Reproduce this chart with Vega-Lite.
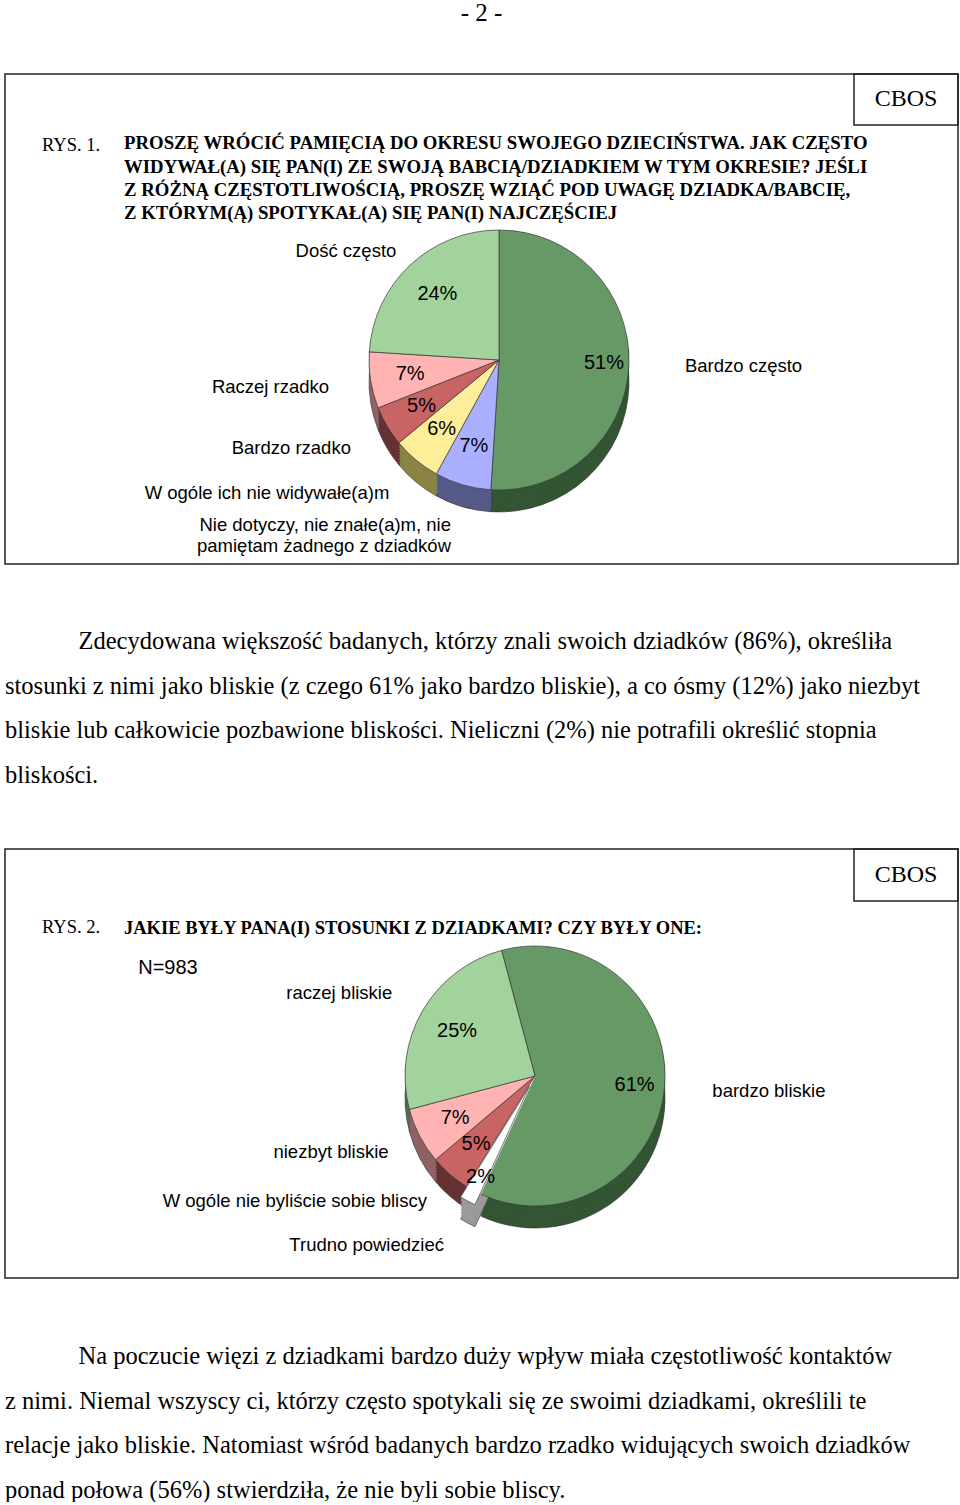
{
  "$schema": "https://vega.github.io/schema/vega-lite/v6.json",
  "background": "white",
  "padding": {"left": 4, "right": 3, "top": 1, "bottom": 0},
  "title": {"text": "- 2 -", "font": "Liberation Serif", "fontSize": 25, "fontWeight": "normal", "anchor": "middle", "frame": "group", "offset": 44, "color": "black"},
  "spacing": 58,
  "resolve": {"scale": {"color": "independent", "fill": "independent", "theta": "independent", "opacity": "independent", "stroke": "independent"}},
  "vconcat": [
    {
      "width": 953,
      "height": 490,
      "view": {"stroke": "#222222", "strokeWidth": 1.5},
      "title": {
        "text": [
          "PROSZĘ WRÓCIĆ PAMIĘCIĄ DO OKRESU SWOJEGO DZIECIŃSTWA. JAK CZĘSTO",
          "WIDYWAŁ(A) SIĘ PAN(I) ZE SWOJĄ BABCIĄ/DZIADKIEM W TYM OKRESIE? JEŚLI",
          "Z RÓŻNĄ CZĘSTOTLIWOŚCIĄ, PROSZĘ WZIĄĆ POD UWAGĘ DZIADKA/BABCIĘ,",
          "Z KTÓRYM(Ą) SPOTYKAŁ(A) SIĘ PAN(I) NAJCZĘŚCIEJ"
        ],
        "orient": "top", "anchor": "start", "frame": "group", "offset": -152, "dx": 119,
        "font": "Liberation Serif", "fontSize": 18.8, "fontWeight": "bold", "color": "black", "lineHeight": 23.3
      },
      "layer": [
        {
          "data": {"values": [
            {"cat": "Bardzo często", "value": 0.51},
            {"cat": "Nie dotyczy, nie znałe(a)m, nie\npamiętam żadnego z dziadków", "value": 0.07},
            {"cat": "W ogóle ich nie widywałe(a)m", "value": 0.06},
            {"cat": "Bardzo rzadko", "value": 0.05},
            {"cat": "Raczej rzadko", "value": 0.07},
            {"cat": "Dość często", "value": 0.24}
          ]},
          "transform": [{"window": [{"op": "row_number", "as": "k"}]}],
          "encoding": {
            "theta": {"field": "value", "type": "quantitative", "stack": true},
            "order": {"field": "k", "type": "quantitative"}
          },
          "layer": [
            {"mark": {"type": "arc", "radius": 130, "xOffset": 17.5, "yOffset": 63, "stroke": "#2a2a2a", "strokeWidth": 0.6},
             "encoding": {"fill": {"field": "cat", "type": "nominal", "legend": null, "scale": {"domain": ["Bardzo często", "Nie dotyczy, nie znałe(a)m, nie\npamiętam żadnego z dziadków", "W ogóle ich nie widywałe(a)m", "Bardzo rzadko", "Raczej rzadko", "Dość często"], "range": ["#335533", "#555a88", "#8a8444", "#643232", "#8f6363", "#51694e"]}}}},
            {"mark": {"type": "arc", "radius": 130, "xOffset": 17.5, "yOffset": 60},
             "encoding": {"fill": {"field": "cat", "type": "nominal", "legend": null, "scale": {"domain": ["Bardzo często", "Nie dotyczy, nie znałe(a)m, nie\npamiętam żadnego z dziadków", "W ogóle ich nie widywałe(a)m", "Bardzo rzadko", "Raczej rzadko", "Dość często"], "range": ["#335533", "#555a88", "#8a8444", "#643232", "#8f6363", "#51694e"]}}}},
            {"mark": {"type": "arc", "radius": 130, "xOffset": 17.5, "yOffset": 57},
             "encoding": {"fill": {"field": "cat", "type": "nominal", "legend": null, "scale": {"domain": ["Bardzo często", "Nie dotyczy, nie znałe(a)m, nie\npamiętam żadnego z dziadków", "W ogóle ich nie widywałe(a)m", "Bardzo rzadko", "Raczej rzadko", "Dość często"], "range": ["#335533", "#555a88", "#8a8444", "#643232", "#8f6363", "#51694e"]}}}},
            {"mark": {"type": "arc", "radius": 130, "xOffset": 17.5, "yOffset": 54},
             "encoding": {"fill": {"field": "cat", "type": "nominal", "legend": null, "scale": {"domain": ["Bardzo często", "Nie dotyczy, nie znałe(a)m, nie\npamiętam żadnego z dziadków", "W ogóle ich nie widywałe(a)m", "Bardzo rzadko", "Raczej rzadko", "Dość często"], "range": ["#335533", "#555a88", "#8a8444", "#643232", "#8f6363", "#51694e"]}}}},
            {"mark": {"type": "arc", "radius": 130, "xOffset": 17.5, "yOffset": 51},
             "encoding": {"fill": {"field": "cat", "type": "nominal", "legend": null, "scale": {"domain": ["Bardzo często", "Nie dotyczy, nie znałe(a)m, nie\npamiętam żadnego z dziadków", "W ogóle ich nie widywałe(a)m", "Bardzo rzadko", "Raczej rzadko", "Dość często"], "range": ["#335533", "#555a88", "#8a8444", "#643232", "#8f6363", "#51694e"]}}}},
            {"mark": {"type": "arc", "radius": 130, "xOffset": 17.5, "yOffset": 48},
             "encoding": {"fill": {"field": "cat", "type": "nominal", "legend": null, "scale": {"domain": ["Bardzo często", "Nie dotyczy, nie znałe(a)m, nie\npamiętam żadnego z dziadków", "W ogóle ich nie widywałe(a)m", "Bardzo rzadko", "Raczej rzadko", "Dość często"], "range": ["#335533", "#555a88", "#8a8444", "#643232", "#8f6363", "#51694e"]}}}},
            {"mark": {"type": "arc", "radius": 130, "xOffset": 17.5, "yOffset": 45},
             "encoding": {"fill": {"field": "cat", "type": "nominal", "legend": null, "scale": {"domain": ["Bardzo często", "Nie dotyczy, nie znałe(a)m, nie\npamiętam żadnego z dziadków", "W ogóle ich nie widywałe(a)m", "Bardzo rzadko", "Raczej rzadko", "Dość często"], "range": ["#335533", "#555a88", "#8a8444", "#643232", "#8f6363", "#51694e"]}}}},
            {"mark": {"type": "arc", "radius": 130, "xOffset": 17.5, "yOffset": 43},
             "encoding": {"fill": {"field": "cat", "type": "nominal", "legend": null, "scale": {"domain": ["Bardzo często", "Nie dotyczy, nie znałe(a)m, nie\npamiętam żadnego z dziadków", "W ogóle ich nie widywałe(a)m", "Bardzo rzadko", "Raczej rzadko", "Dość często"], "range": ["#335533", "#555a88", "#8a8444", "#643232", "#8f6363", "#51694e"]}}}},
            {"mark": {"type": "arc", "radius": 130, "xOffset": 17.5, "yOffset": 41, "stroke": "#3a3a3a", "strokeWidth": 0.7},
             "encoding": {"color": {"field": "cat", "type": "nominal", "legend": null, "scale": {"domain": ["Bardzo często", "Nie dotyczy, nie znałe(a)m, nie\npamiętam żadnego z dziadków", "W ogóle ich nie widywałe(a)m", "Bardzo rzadko", "Raczej rzadko", "Dość często"], "range": ["#669966", "#aab0ff", "#ffee99", "#c86464", "#ffb3b3", "#a3d39c"]}}}},
            {"mark": {"type": "text", "radius": {"expr": "datum.cat === 'Bardzo często' ? 105 : 90"}, "xOffset": 17.5, "yOffset": 41, "font": "Liberation Sans", "fontSize": 20, "color": "black"},
             "encoding": {"text": {"field": "value", "type": "quantitative", "format": ".0%"}}},
            {"mark": {"type": "text", "radius": {"expr": "datum.cat === 'Dość często' ? 150 : datum.cat === 'Bardzo często' ? 186 : 172"}, "xOffset": 17.5, "yOffset": 41, "font": "Liberation Sans", "fontSize": 18.5, "color": "black", "lineBreak": "\n", "lineHeight": 21,
                      "align": {"expr": "datum.cat === 'Bardzo często' ? 'left' : 'right'"}},
             "encoding": {"text": {"field": "cat", "type": "nominal"}}}
          ]
        },
        {
          "data": {"values": [{"t": "RYS. 1."}]},
          "mark": {"type": "text", "font": "Liberation Serif", "fontSize": 18.5, "color": "black", "align": "left", "xOffset": -439.5, "yOffset": -174},
          "encoding": {"text": {"field": "t", "type": "nominal"}}
        },
        {
          "data": {"values": [{"t": "CBOS"}]},
          "mark": {"type": "point", "shape": "M-1,-0.49L1,-0.49L1,0.49L-1,0.49Z", "size": 10816, "filled": false, "stroke": "#222222", "strokeWidth": 1.5, "opacity": 1, "xOffset": 424.5, "yOffset": -219.5},
          "encoding": {}
        },
        {
          "data": {"values": [{"t": "CBOS"}]},
          "mark": {"type": "text", "font": "Liberation Serif", "fontSize": 24, "color": "black", "xOffset": 424.5, "yOffset": -220},
          "encoding": {"text": {"field": "t", "type": "nominal"}}
        }
      ]
    },
    {
      "width": 953,
      "height": 7,
      "data": {"values": []},
      "mark": {"type": "point", "opacity": 0},
      "title": {
        "text": [
          "\u200b\u00a0\u00a0\u00a0\u00a0\u00a0\u00a0\u00a0\u00a0\u00a0\u00a0\u00a0\u00a0Zdecydowana większość badanych, którzy znali swoich dziadków (86%), określiła",
          "stosunki z nimi jako bliskie (z czego 61% jako bardzo bliskie), a co ósmy (12%) jako niezbyt",
          "bliskie lub całkowicie pozbawione bliskości. Nieliczni (2%) nie potrafili określić stopnia",
          "bliskości."
        ],
        "orient": "bottom", "anchor": "start", "frame": "group", "offset": 0,
        "font": "Liberation Serif", "fontSize": 24.5, "fontWeight": "normal", "color": "black", "lineHeight": 44.5
      }
    },
    {
      "width": 953,
      "height": 429,
      "view": {"stroke": "#222222", "strokeWidth": 1.5},
      "title": {
        "text": "JAKIE BYŁY PANA(I) STOSUNKI Z DZIADKAMI? CZY BYŁY ONE:",
        "orient": "top", "anchor": "start", "frame": "group", "offset": -91, "dx": 119,
        "font": "Liberation Serif", "fontSize": 18.5, "fontWeight": "bold", "color": "black"
      },
      "layer": [
        {
          "data": {"values": [
            {"cat": "bardzo bliskie", "value": 0.61},
            {"cat": "Trudno powiedzieć", "value": 0.02},
            {"cat": "W ogóle nie byliście sobie bliscy", "value": 0.05},
            {"cat": "niezbyt bliskie", "value": 0.07},
            {"cat": "raczej bliskie", "value": 0.25}
          ]},
          "transform": [{"window": [{"op": "row_number", "as": "k"}]}],
          "encoding": {
            "theta": {"field": "value", "type": "quantitative", "stack": true, "scale": {"range": [-0.26, 6.02319]}},
            "order": {"field": "k", "type": "quantitative"}
          },
          "layer": [
            {"mark": {"type": "arc", "radius": 130, "xOffset": 53.5, "yOffset": 34.5, "stroke": "#2a2a2a", "strokeWidth": 0.6},
             "encoding": {"fill": {"field": "cat", "type": "nominal", "legend": null, "scale": {"domain": ["bardzo bliskie", "Trudno powiedzieć", "W ogóle nie byliście sobie bliscy", "niezbyt bliskie", "raczej bliskie"], "range": ["#335533", "#9a9a9a", "#643232", "#8f6363", "#51694e"]}},
                          "opacity": {"condition": {"test": "datum.cat === 'Trudno powiedzieć'", "value": 0}, "value": 1}}},
            {"mark": {"type": "arc", "radius": 130, "xOffset": 53.5, "yOffset": 31.5},
             "encoding": {"fill": {"field": "cat", "type": "nominal", "legend": null, "scale": {"domain": ["bardzo bliskie", "Trudno powiedzieć", "W ogóle nie byliście sobie bliscy", "niezbyt bliskie", "raczej bliskie"], "range": ["#335533", "#9a9a9a", "#643232", "#8f6363", "#51694e"]}},
                          "opacity": {"condition": {"test": "datum.cat === 'Trudno powiedzieć'", "value": 0}, "value": 1}}},
            {"mark": {"type": "arc", "radius": 130, "xOffset": 53.5, "yOffset": 28.5},
             "encoding": {"fill": {"field": "cat", "type": "nominal", "legend": null, "scale": {"domain": ["bardzo bliskie", "Trudno powiedzieć", "W ogóle nie byliście sobie bliscy", "niezbyt bliskie", "raczej bliskie"], "range": ["#335533", "#9a9a9a", "#643232", "#8f6363", "#51694e"]}},
                          "opacity": {"condition": {"test": "datum.cat === 'Trudno powiedzieć'", "value": 0}, "value": 1}}},
            {"mark": {"type": "arc", "radius": 130, "xOffset": 53.5, "yOffset": 25.5},
             "encoding": {"fill": {"field": "cat", "type": "nominal", "legend": null, "scale": {"domain": ["bardzo bliskie", "Trudno powiedzieć", "W ogóle nie byliście sobie bliscy", "niezbyt bliskie", "raczej bliskie"], "range": ["#335533", "#9a9a9a", "#643232", "#8f6363", "#51694e"]}},
                          "opacity": {"condition": {"test": "datum.cat === 'Trudno powiedzieć'", "value": 0}, "value": 1}}},
            {"mark": {"type": "arc", "radius": 130, "xOffset": 53.5, "yOffset": 22.5},
             "encoding": {"fill": {"field": "cat", "type": "nominal", "legend": null, "scale": {"domain": ["bardzo bliskie", "Trudno powiedzieć", "W ogóle nie byliście sobie bliscy", "niezbyt bliskie", "raczej bliskie"], "range": ["#335533", "#9a9a9a", "#643232", "#8f6363", "#51694e"]}},
                          "opacity": {"condition": {"test": "datum.cat === 'Trudno powiedzieć'", "value": 0}, "value": 1}}},
            {"mark": {"type": "arc", "radius": 130, "xOffset": 53.5, "yOffset": 19.5},
             "encoding": {"fill": {"field": "cat", "type": "nominal", "legend": null, "scale": {"domain": ["bardzo bliskie", "Trudno powiedzieć", "W ogóle nie byliście sobie bliscy", "niezbyt bliskie", "raczej bliskie"], "range": ["#335533", "#9a9a9a", "#643232", "#8f6363", "#51694e"]}},
                          "opacity": {"condition": {"test": "datum.cat === 'Trudno powiedzieć'", "value": 0}, "value": 1}}},
            {"mark": {"type": "arc", "radius": 130, "xOffset": 53.5, "yOffset": 16.5},
             "encoding": {"fill": {"field": "cat", "type": "nominal", "legend": null, "scale": {"domain": ["bardzo bliskie", "Trudno powiedzieć", "W ogóle nie byliście sobie bliscy", "niezbyt bliskie", "raczej bliskie"], "range": ["#335533", "#9a9a9a", "#643232", "#8f6363", "#51694e"]}},
                          "opacity": {"condition": {"test": "datum.cat === 'Trudno powiedzieć'", "value": 0}, "value": 1}}},
            {"mark": {"type": "arc", "radius": 130, "xOffset": 53.5, "yOffset": 14.5},
             "encoding": {"fill": {"field": "cat", "type": "nominal", "legend": null, "scale": {"domain": ["bardzo bliskie", "Trudno powiedzieć", "W ogóle nie byliście sobie bliscy", "niezbyt bliskie", "raczej bliskie"], "range": ["#335533", "#9a9a9a", "#643232", "#8f6363", "#51694e"]}},
                          "opacity": {"condition": {"test": "datum.cat === 'Trudno powiedzieć'", "value": 0}, "value": 1}}},
            {"mark": {"type": "arc", "radius": 130, "xOffset": 47.8, "yOffset": 45.1, "stroke": "#555555", "strokeWidth": 0.8},
             "encoding": {"fill": {"field": "cat", "type": "nominal", "legend": null, "scale": {"domain": ["bardzo bliskie", "Trudno powiedzieć", "W ogóle nie byliście sobie bliscy", "niezbyt bliskie", "raczej bliskie"], "range": ["#335533", "#9a9a9a", "#643232", "#8f6363", "#51694e"]}},
                          "opacity": {"condition": {"test": "datum.cat === 'Trudno powiedzieć'", "value": 1}, "value": 0}}},
            {"mark": {"type": "arc", "radius": 130, "xOffset": 47.8, "yOffset": 42.1},
             "encoding": {"fill": {"field": "cat", "type": "nominal", "legend": null, "scale": {"domain": ["bardzo bliskie", "Trudno powiedzieć", "W ogóle nie byliście sobie bliscy", "niezbyt bliskie", "raczej bliskie"], "range": ["#335533", "#9a9a9a", "#643232", "#8f6363", "#51694e"]}},
                          "opacity": {"condition": {"test": "datum.cat === 'Trudno powiedzieć'", "value": 1}, "value": 0}}},
            {"mark": {"type": "arc", "radius": 130, "xOffset": 47.8, "yOffset": 39.1},
             "encoding": {"fill": {"field": "cat", "type": "nominal", "legend": null, "scale": {"domain": ["bardzo bliskie", "Trudno powiedzieć", "W ogóle nie byliście sobie bliscy", "niezbyt bliskie", "raczej bliskie"], "range": ["#335533", "#9a9a9a", "#643232", "#8f6363", "#51694e"]}},
                          "opacity": {"condition": {"test": "datum.cat === 'Trudno powiedzieć'", "value": 1}, "value": 0}}},
            {"mark": {"type": "arc", "radius": 130, "xOffset": 47.8, "yOffset": 36.1},
             "encoding": {"fill": {"field": "cat", "type": "nominal", "legend": null, "scale": {"domain": ["bardzo bliskie", "Trudno powiedzieć", "W ogóle nie byliście sobie bliscy", "niezbyt bliskie", "raczej bliskie"], "range": ["#335533", "#9a9a9a", "#643232", "#8f6363", "#51694e"]}},
                          "opacity": {"condition": {"test": "datum.cat === 'Trudno powiedzieć'", "value": 1}, "value": 0}}},
            {"mark": {"type": "arc", "radius": 130, "xOffset": 47.8, "yOffset": 33.1},
             "encoding": {"fill": {"field": "cat", "type": "nominal", "legend": null, "scale": {"domain": ["bardzo bliskie", "Trudno powiedzieć", "W ogóle nie byliście sobie bliscy", "niezbyt bliskie", "raczej bliskie"], "range": ["#335533", "#9a9a9a", "#643232", "#8f6363", "#51694e"]}},
                          "opacity": {"condition": {"test": "datum.cat === 'Trudno powiedzieć'", "value": 1}, "value": 0}}},
            {"mark": {"type": "arc", "radius": 130, "xOffset": 47.8, "yOffset": 30.1},
             "encoding": {"fill": {"field": "cat", "type": "nominal", "legend": null, "scale": {"domain": ["bardzo bliskie", "Trudno powiedzieć", "W ogóle nie byliście sobie bliscy", "niezbyt bliskie", "raczej bliskie"], "range": ["#335533", "#9a9a9a", "#643232", "#8f6363", "#51694e"]}},
                          "opacity": {"condition": {"test": "datum.cat === 'Trudno powiedzieć'", "value": 1}, "value": 0}}},
            {"mark": {"type": "arc", "radius": 130, "xOffset": 47.8, "yOffset": 27.1},
             "encoding": {"fill": {"field": "cat", "type": "nominal", "legend": null, "scale": {"domain": ["bardzo bliskie", "Trudno powiedzieć", "W ogóle nie byliście sobie bliscy", "niezbyt bliskie", "raczej bliskie"], "range": ["#335533", "#9a9a9a", "#643232", "#8f6363", "#51694e"]}},
                          "opacity": {"condition": {"test": "datum.cat === 'Trudno powiedzieć'", "value": 1}, "value": 0}}},
            {"mark": {"type": "arc", "radius": 130, "xOffset": 47.8, "yOffset": 25.1},
             "encoding": {"fill": {"field": "cat", "type": "nominal", "legend": null, "scale": {"domain": ["bardzo bliskie", "Trudno powiedzieć", "W ogóle nie byliście sobie bliscy", "niezbyt bliskie", "raczej bliskie"], "range": ["#335533", "#9a9a9a", "#643232", "#8f6363", "#51694e"]}},
                          "opacity": {"condition": {"test": "datum.cat === 'Trudno powiedzieć'", "value": 1}, "value": 0}}},
            {"mark": {"type": "arc", "radius": 130, "xOffset": 53.5, "yOffset": 12.5, "strokeWidth": 0.7},
             "encoding": {"color": {"field": "cat", "type": "nominal", "legend": null, "scale": {"domain": ["bardzo bliskie", "Trudno powiedzieć", "W ogóle nie byliście sobie bliscy", "niezbyt bliskie", "raczej bliskie"], "range": ["#669966", "#ffffff", "#c86464", "#ffb3b3", "#a3d39c"]}},
                          "stroke": {"condition": {"test": "datum.cat === 'Trudno powiedzieć'", "value": "#ffffff"}, "value": "#3a3a3a"}}},
            {"mark": {"type": "arc", "radius": 130, "xOffset": 47.8, "yOffset": 23.1, "stroke": "#555555", "strokeWidth": 0.8},
             "encoding": {"color": {"field": "cat", "type": "nominal", "legend": null, "scale": {"domain": ["bardzo bliskie", "Trudno powiedzieć", "W ogóle nie byliście sobie bliscy", "niezbyt bliskie", "raczej bliskie"], "range": ["#669966", "#ffffff", "#c86464", "#ffb3b3", "#a3d39c"]}},
                          "opacity": {"condition": {"test": "datum.cat === 'Trudno powiedzieć'", "value": 1}, "value": 0}}},
            {"mark": {"type": "text", "radius": {"expr": "datum.cat === 'Trudno powiedzieć' ? 115 : datum.cat === 'bardzo bliskie' ? 100 : 90"}, "xOffset": 53.5, "yOffset": 12.5, "font": "Liberation Sans", "fontSize": 20, "color": "black"},
             "encoding": {"text": {"field": "value", "type": "quantitative", "format": ".0%"}}},
            {"mark": {"type": "text", "radius": {"expr": "datum.cat === 'bardzo bliskie' ? 178 : datum.cat === 'Trudno powiedzieć' ? 192 : 165"}, "xOffset": 53.5, "yOffset": 12.5, "font": "Liberation Sans", "fontSize": 18.5, "color": "black",
                      "align": {"expr": "datum.cat === 'bardzo bliskie' ? 'left' : 'right'"}},
             "encoding": {"text": {"field": "cat", "type": "nominal"}}}
          ]
        },
        {
          "data": {"values": [{"t": "RYS. 2."}]},
          "mark": {"type": "text", "font": "Liberation Serif", "fontSize": 18.5, "color": "black", "align": "left", "xOffset": -439.5, "yOffset": -136.5},
          "encoding": {"text": {"field": "t", "type": "nominal"}}
        },
        {
          "data": {"values": [{"t": "N=983"}]},
          "mark": {"type": "text", "font": "Liberation Sans", "fontSize": 20, "color": "black", "xOffset": -313.5, "yOffset": -96},
          "encoding": {"text": {"field": "t", "type": "nominal"}}
        },
        {
          "data": {"values": [{"t": "CBOS"}]},
          "mark": {"type": "point", "shape": "M-1,-0.5L1,-0.5L1,0.5L-1,0.5Z", "size": 10816, "filled": false, "stroke": "#222222", "strokeWidth": 1.5, "opacity": 1, "xOffset": 424.5, "yOffset": -188.5},
          "encoding": {}
        },
        {
          "data": {"values": [{"t": "CBOS"}]},
          "mark": {"type": "text", "font": "Liberation Serif", "fontSize": 24, "color": "black", "xOffset": 424.5, "yOffset": -189},
          "encoding": {"text": {"field": "t", "type": "nominal"}}
        }
      ]
    },
    {
      "width": 953,
      "height": 8,
      "data": {"values": []},
      "mark": {"type": "point", "opacity": 0},
      "title": {
        "text": [
          "\u200b\u00a0\u00a0\u00a0\u00a0\u00a0\u00a0\u00a0\u00a0\u00a0\u00a0\u00a0\u00a0Na poczucie więzi z dziadkami bardzo duży wpływ miała częstotliwość kontaktów",
          "z nimi. Niemal wszyscy ci, którzy często spotykali się ze swoimi dziadkami, określili te",
          "relacje jako bliskie. Natomiast wśród badanych bardzo rzadko widujących swoich dziadków",
          "ponad połowa (56%) stwierdziła, że nie byli sobie bliscy."
        ],
        "orient": "bottom", "anchor": "start", "frame": "group", "offset": 0,
        "font": "Liberation Serif", "fontSize": 24.5, "fontWeight": "normal", "color": "black", "lineHeight": 44.5
      }
    }
  ],
  "config": {"view": {"stroke": null}}
}
